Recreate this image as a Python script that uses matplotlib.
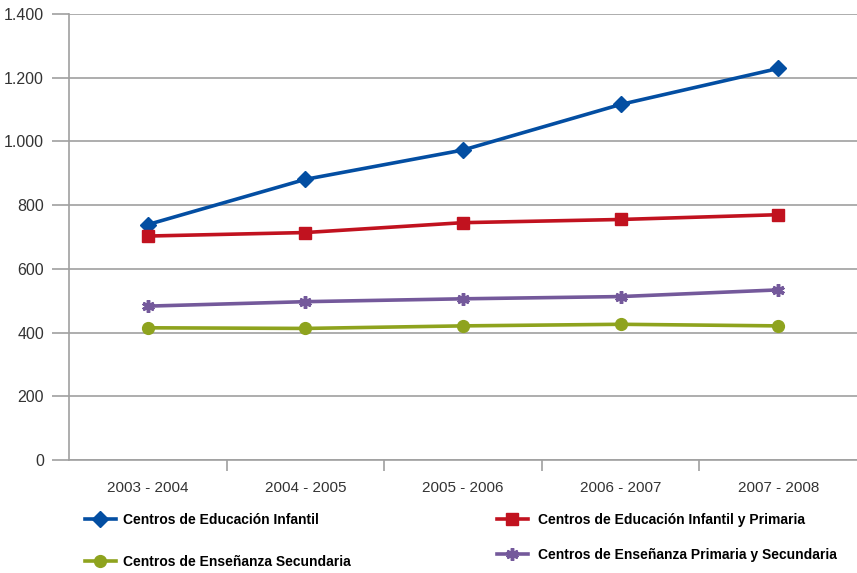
import matplotlib
matplotlib.use("Agg")
import matplotlib.pyplot as plt
from matplotlib.lines import Line2D
from matplotlib.ticker import FuncFormatter, FixedLocator

categories = ["2003 - 2004", "2004 - 2005", "2005 - 2006", "2006 - 2007", "2007 - 2008"]
infantil = [739, 881, 973, 1116, 1229]
infantil_primaria = [703, 714, 745, 755, 770]
primaria_secundaria = [483, 497, 506, 513, 534]
secundaria = [415, 413, 421, 426, 421]

series_names = [
    "Centros de Educación Infantil",
    "Centros de Educación Infantil y Primaria",
    "Centros de Enseñanza Secundaria",
    "Centros de Enseñanza Primaria y Secundaria",
]

plt.rcParams['font.family'] = ['Liberation Sans', 'DejaVu Sans']

fig = plt.figure(figsize=(8.57, 5.73), dpi=100)
ax = fig.add_axes([69/857, 1-460/573, 1-69/857, (460-14)/573])

x = list(range(len(categories)))
blue, red, green, purple = "#034EA2", "#C1121F", "#8EA31E", "#74599B"
lw = 2.6
l1, = ax.plot(x, infantil, color=blue, lw=lw, marker='D', ms=8.5, mec=blue, mfc=blue)
l2, = ax.plot(x, infantil_primaria, color=red, lw=lw, marker='s', ms=8, mec=red, mfc=red)
l4, = ax.plot(x, primaria_secundaria, color=purple, lw=lw, marker=(6, 2, 0), ms=9, mec=purple, mew=2.5)
l3, = ax.plot(x, secundaria, color=green, lw=lw, marker='o', ms=8.5, mec=green, mfc=green)

ax.set_xlim(-0.5, 4.5)
ax.set_ylim(0, 1400)
ax.set_yticks(range(0, 1401, 200))
ax.yaxis.set_major_formatter(FuncFormatter(lambda v, p: f"{int(v):,}".replace(",", ".")))
ax.grid(axis='y', color='#A0A0A0', lw=1.2)
ax.set_axisbelow(True)

ax.set_xticks(x)
ax.set_xticklabels(categories)
ax.xaxis.set_minor_locator(FixedLocator([0.5, 1.5, 2.5, 3.5]))
ax.tick_params(axis='x', which='major', length=0, pad=15, labelsize=11, labelcolor='#333333')
ax.tick_params(axis='x', which='minor', length=8, width=1.2, color='#A0A0A0')
ax.tick_params(axis='y', length=12, width=1.2, color='#A0A0A0', pad=6, labelsize=11.5, labelcolor='#333333')

for s in ['top', 'right']:
    ax.spines[s].set_visible(False)
ax.spines['left'].set_color('#A0A0A0')
ax.spines['left'].set_linewidth(1.2)
ax.spines['bottom'].set_color('#A0A0A0')
ax.spines['bottom'].set_linewidth(1.2)
ax.spines['left'].set_bounds(0, 1400)

leg_font = {'family': ['Liberation Sans Narrow', 'Liberation Sans', 'DejaVu Sans'], 'weight': 'bold', 'size': 10}
positions = [(85, 520), (497, 520), (85, 562), (497, 555)]
pads = [0.55, 0.75, 0.55, 0.75]
lines = [l1, l2, l3, l4]
for line, name, (px, py), tp in zip(lines, series_names, positions, pads):
    h = Line2D([], [], color=line.get_color(), lw=lw, marker=line.get_marker(),
               ms=line.get_markersize(), mec=line.get_mec(), mfc=line.get_mfc(), mew=line.get_mew())
    fig.legend([h], [name], loc='center left', bbox_to_anchor=(px/857, 1-py/573),
               frameon=False, prop=leg_font, handlelength=2.2, handletextpad=tp,
               borderpad=0, borderaxespad=0)

fig.savefig("out.png", dpi=100)
